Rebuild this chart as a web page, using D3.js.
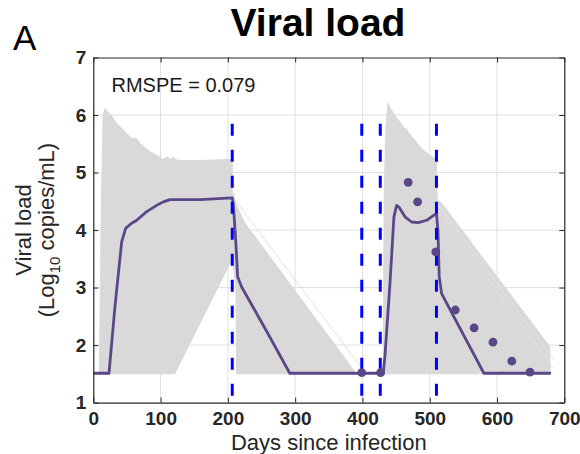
<!DOCTYPE html>
<html>
<head>
<meta charset="utf-8">
<script src="https://cdn.jsdelivr.net/npm/d3@7"></script>
<style>
  html, body { margin: 0; padding: 0; background: #fff; }
  svg { display: block; font-family: "Liberation Sans", Arial, Helvetica, sans-serif; }
</style>
</head>
<body>
<svg id="chart" width="580" height="454"></svg>
<script>
// ---------------- data ----------------
const xTicks = [0, 100, 200, 300, 400, 500, 600, 700];
const yTicks = [1, 2, 3, 4, 5, 6, 7];

// median model trajectory (days, log10 copies/mL)
const medianDays = [0, 23.3, 32.2, 42.2, 48.1, 56, 64.5, 79.3, 94.2, 104, 114, 158.5, 206.5, 208, 211.6, 214.5, 220.5, 257.6, 292,
  430.9, 433.4, 440.9, 446.8, 450.8, 454.2, 463.2, 473.1, 483, 495.4, 506.2, 510, 512.2, 514.1, 517.6, 525.1, 580.5, 678.5];
const medianVals = [1.51, 1.51, 2.67, 3.80, 4.03, 4.11, 4.17, 4.32, 4.43, 4.49, 4.53, 4.53, 4.56, 4.46, 3.83, 3.19, 3.01, 2.24, 1.51,
  1.51, 1.80, 3.07, 4.23, 4.43, 4.40, 4.23, 4.14, 4.13, 4.17, 4.26, 4.28, 4.00, 3.19, 2.90, 2.73, 1.51, 1.51];

// observed data points
const obsDays = [399, 427, 468, 482, 509, 538, 566, 594, 622, 649];
const obsVals = [1.52, 1.52, 4.83, 4.49, 3.62, 2.61, 2.30, 2.05, 1.72, 1.53];

// treatment interruption / change times (blue dashed lines)
const eventDays = [206.5, 399, 426.5, 510];
const eventTop = 5.85;

// gray envelope of simulated trajectories (outline polygons)
const bandPreDays = [9, 12, 14.5, 17.5, 22, 26, 29.7, 35, 40, 44.6, 50, 57, 63, 69.4, 75, 84.3, 94.2, 103.7, 110, 114, 118.5, 124, 128.8, 160, 206.5, 206.5, 121, 9];
const bandPreVals = [1.5, 4.5, 6.0, 6.11, 6.05, 6.0, 5.94, 5.85, 5.80, 5.74, 5.68, 5.59, 5.60, 5.51, 5.45, 5.36, 5.30, 5.23, 5.27, 5.23, 5.27, 5.22, 5.21, 5.21, 5.23, 3.50, 1.5, 1.5];

const bandDecayDays = [206.5, 208, 212, 225.4, 297, 391, 213, 212, 208, 206.5];
const bandDecayVals = [4.6, 4.64, 4.45, 4.12, 2.99, 1.5, 1.5, 3.0, 3.4, 3.5];

const bandReboundDays = [430.9, 432.3, 434.8, 438.3, 441, 445.8, 450, 455.7, 460, 465.7, 470, 475.5, 479, 483, 490, 495, 500.3, 505, 510, 511, 517.6, 678.5, 679, 430.9];
const bandReboundVals = [1.5, 4.6, 5.8, 6.21, 6.12, 6.04, 5.96, 5.88, 5.80, 5.75, 5.68, 5.59, 5.55, 5.48, 5.40, 5.35, 5.30, 5.27, 5.23, 4.52, 4.47, 1.97, 1.5, 1.5];

// a few fainter individual trajectories outside the main envelope
const faintDaysA = [209, 402];
const faintValsA = [4.55, 1.55];
const faintDaysB = [512, 684];
const faintValsB = [4.45, 1.75];
const faintDaysC = [513, 683];
const faintValsC = [4.35, 1.6];

// ---------------- layout ----------------
const svg = d3.select("#chart");
const L = 93.3, R = 564.3, T = 57.5, B = 402.6;
const x = d3.scaleLinear().domain([0, 700]).range([L, R]);
const y = d3.scaleLinear().domain([1, 7]).range([B, T]);
const axisColor = "#262626";
const gridColor = "#e0e0e0";
const bandColor = "#d9d9d9";
const purple = "#5b4788";

svg.append("defs").append("clipPath").attr("id", "clip")
  .append("rect").attr("x", L).attr("y", T).attr("width", R - L).attr("height", B - T);

// grid
const grid = svg.append("g");
grid.selectAll("line.gx").data(xTicks.slice(1, -1)).join("line")
  .attr("x1", d => x(d)).attr("x2", d => x(d)).attr("y1", T).attr("y2", B)
  .attr("stroke", gridColor).attr("stroke-width", 1);
grid.selectAll("line.gy").data(yTicks.slice(1, -1)).join("line")
  .attr("y1", d => y(d)).attr("y2", d => y(d)).attr("x1", L).attr("x2", R)
  .attr("stroke", gridColor).attr("stroke-width", 1);

const plot = svg.append("g").attr("clip-path", "url(#clip)");
const line = d3.line().x(d => x(d[0])).y(d => y(d[1]));
const zip = (a, b) => a.map((v, i) => [v, b[i]]);

// band
[[bandPreDays, bandPreVals], [bandDecayDays, bandDecayVals], [bandReboundDays, bandReboundVals]].forEach(([ds, vs]) => {
  plot.append("path").attr("d", line(zip(ds, vs)) + "Z")
    .attr("fill", bandColor).attr("stroke", bandColor).attr("stroke-width", 1);
});
[[faintDaysA, faintValsA], [faintDaysB, faintValsB], [faintDaysC, faintValsC]].forEach(([ds, vs]) => {
  plot.append("path").attr("d", line(zip(ds, vs)))
    .attr("fill", "none").attr("stroke", "#e2e2e2").attr("stroke-width", 1);
});

// median
plot.append("path").attr("d", line(zip(medianDays, medianVals)))
  .attr("fill", "none").attr("stroke", purple).attr("stroke-width", 2.8)
  .attr("stroke-linejoin", "round").attr("stroke-linecap", "round");

// dashed event lines
plot.selectAll("line.ev").data(eventDays).join("line")
  .attr("x1", d => x(d)).attr("x2", d => x(d))
  .attr("y1", y(eventTop)).attr("y2", B)
  .attr("stroke", "#0000ff").attr("stroke-width", 3).attr("stroke-dasharray", "12,14");

// observations
plot.selectAll("circle").data(zip(obsDays, obsVals)).join("circle")
  .attr("cx", d => x(d[0])).attr("cy", d => y(d[1])).attr("r", 4.4)
  .attr("fill", purple);

// axes
const tickLen = 5;
const axB = svg.append("g").attr("transform", `translate(0,${B})`)
  .call(d3.axisBottom(x).tickValues(xTicks).tickSizeInner(-tickLen).tickSizeOuter(0).tickPadding(9).tickFormat(d3.format("d")));
const axT = svg.append("g").attr("transform", `translate(0,${T})`)
  .call(d3.axisTop(x).tickValues(xTicks).tickSizeInner(-tickLen).tickSizeOuter(0).tickFormat(""));
const axLft = svg.append("g").attr("transform", `translate(${L},0)`)
  .call(d3.axisLeft(y).tickValues(yTicks).tickSizeInner(-tickLen).tickSizeOuter(0).tickPadding(7).tickFormat(d3.format("d")));
const axRt = svg.append("g").attr("transform", `translate(${R},0)`)
  .call(d3.axisRight(y).tickValues(yTicks).tickSizeInner(-tickLen).tickSizeOuter(0).tickFormat(""));
[axB, axT, axLft, axRt].forEach(g => {
  g.select(".domain").attr("stroke", axisColor).attr("stroke-width", 1.2);
  g.selectAll(".tick line").attr("stroke", axisColor).attr("stroke-width", 1);
  g.selectAll("text").attr("fill", axisColor).attr("font-size", 19).attr("font-weight", "bold")
    .attr("font-family", "'Liberation Sans', Arial, Helvetica, sans-serif");
});

// texts
svg.append("text").attr("x", 318).attr("y", 36).attr("text-anchor", "middle")
  .attr("font-size", 39).attr("font-weight", "bold").attr("fill", "#000").text("Viral load");
svg.append("text").attr("x", 13).attr("y", 50)
  .attr("font-size", 35).attr("fill", "#000").text("A");
svg.append("text").attr("x", 111.5).attr("y", 91.7)
  .attr("font-size", 20).attr("fill", "#1a1a1a").text("RMSPE = 0.079");
svg.append("text").attr("x", (L + R) / 2).attr("y", 450)
  .attr("text-anchor", "middle").attr("font-size", 22).attr("fill", "#262626").text("Days since infection");

const cy = (T + B) / 2;
const yl = svg.append("g").attr("transform", `rotate(-90)`);
yl.append("text").attr("x", -cy).attr("y", 31)
  .attr("text-anchor", "middle").attr("font-size", 22).attr("fill", "#262626").text("Viral load");
const t2 = yl.append("text").attr("x", -cy).attr("y", 54)
  .attr("text-anchor", "middle").attr("font-size", 22).attr("fill", "#262626");
t2.append("tspan").text("(Log");
t2.append("tspan").attr("font-size", 15).attr("dy", 6).text("10");
t2.append("tspan").attr("dy", -6).text(" copies/mL)");
</script>
</body>
</html>
